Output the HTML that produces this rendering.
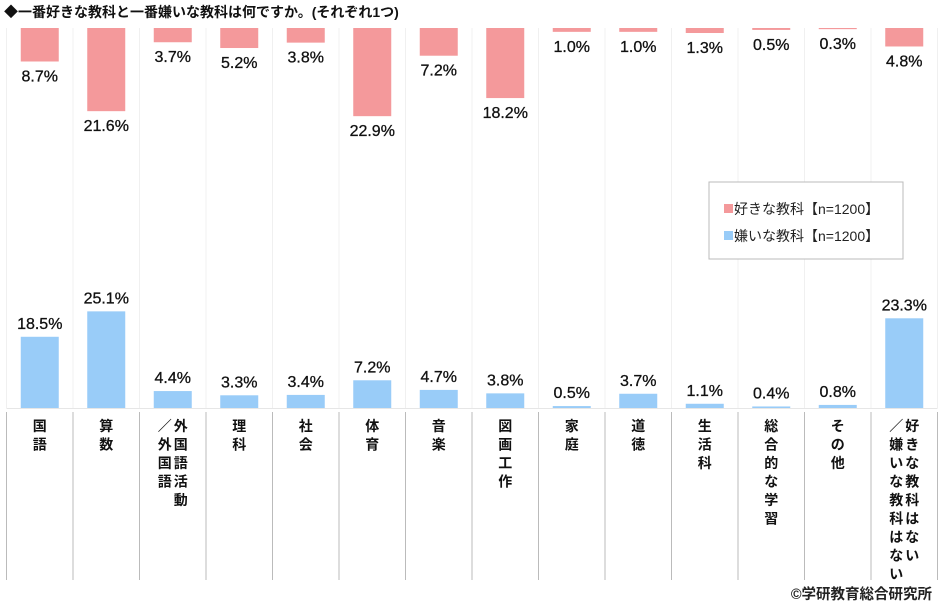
<!DOCTYPE html>
<html><head><meta charset="utf-8"><style>
body{margin:0;background:#fff;width:940px;height:605px;overflow:hidden;font-family:"Liberation Sans","Noto Sans CJK JP",sans-serif}
svg text{font-family:"Liberation Sans","Noto Sans CJK JP",sans-serif}
</style></head><body>
<svg id="c" width="940" height="605" xmlns="http://www.w3.org/2000/svg">
<text x="4" y="17" font-size="14" font-weight="bold" fill="#111">◆一番好きな教科と一番嫌いな教科は何ですか。(それぞれ1つ)</text>
<g id="grid"></g><g id="bars"></g><g id="labels"></g>
<g>
<rect x="709" y="182" width="194" height="77" fill="#fff" stroke="#bbb"/>
<rect x="724" y="204" width="9" height="9" fill="#f4999b"/>
<text x="734" y="214" font-size="14" fill="#222">好きな教科【n=1200】</text>
<rect x="724" y="231" width="9" height="9" fill="#99ccf8"/>
<text x="734" y="241" font-size="14" fill="#222">嫌いな教科【n=1200】</text>
</g>
<text x="932" y="599" font-size="14.5" font-weight="bold" text-anchor="end" fill="#222">©学研教育総合研究所</text>
</svg>
<script>
const categories=[["国語"],["算数"],["外国語活動","／外国語"],["理科"],["社会"],["体育"],["音楽"],["図画工作"],["家庭"],["道徳"],["生活科"],["総合的な学習"],["その他"],["好きな教科はない","／嫌いな教科はない"]];
const likeValues=[8.7,21.6,3.7,5.2,3.8,22.9,7.2,18.2,1.0,1.0,1.3,0.5,0.3,4.8];
const dislikeValues=[18.5,25.1,4.4,3.3,3.4,7.2,4.7,3.8,0.5,3.7,1.1,0.4,0.8,23.3];
const NS="http://www.w3.org/2000/svg";
const x0=6.5,colW=66.5,topY=28,baseY=408,k=3.85,bw=38;
const colX=i=>x0+i*colW;
const hOf=v=>v*k;
function mk(tag,attrs,parent){const e=document.createElementNS(NS,tag);for(const a in attrs)e.setAttribute(a,attrs[a]);document.getElementById(parent).appendChild(e);return e;}
for(let i=0;i<=categories.length;i++){
  let l=mk('line',{x1:colX(i),x2:colX(i),y1:topY,y2:baseY,stroke:'#f0f0f0'},'grid');
  
  
  let s=mk('line',{x1:colX(i),x2:colX(i),y1:412,y2:580,stroke:'#bbb'},'grid');
  
  
}
let bl=mk('line',{x1:x0,x2:colX(categories.length),y1:baseY+0.5,y2:baseY+0.5,stroke:'#e6e6e6'},'grid');


categories.forEach((c,i)=>{
  const cx=colX(i)+colW/2;
  const lh=hOf(likeValues[i]);
  let r=mk('rect',{x:cx-bw/2,y:topY,width:bw,height:lh,fill:'#f4999b'},'bars');
  
  
  let t=mk('text',{x:cx,y:topY+lh+20,'font-size':16,'text-anchor':'middle',fill:'#111',stroke:'#111','stroke-width':0.3},'labels');
  t.textContent=likeValues[i].toFixed(1)+'%';
  
  
  const dh=hOf(dislikeValues[i]);
  let r2=mk('rect',{x:cx-bw/2,y:baseY-dh,width:bw,height:dh,fill:'#99ccf8'},'bars');
  
  
  let t2=mk('text',{x:cx,y:baseY-dh-8,'font-size':16,'text-anchor':'middle',fill:'#111',stroke:'#111','stroke-width':0.3},'labels');
  t2.textContent=dislikeValues[i].toFixed(1)+'%';
  
  
  c.forEach((line,j)=>{
    const lx=cx+(c.length>1?(j===0?8:-8):0);
    [...line].forEach((ch,m)=>{
      let ct=mk('text',{x:lx,y:431+m*18.5,'font-size':14,'font-weight':'bold','text-anchor':'middle',fill:'#111'},'labels');
      ct.textContent=ch;
      
      
    });
  });
});
</script>
</body></html>
